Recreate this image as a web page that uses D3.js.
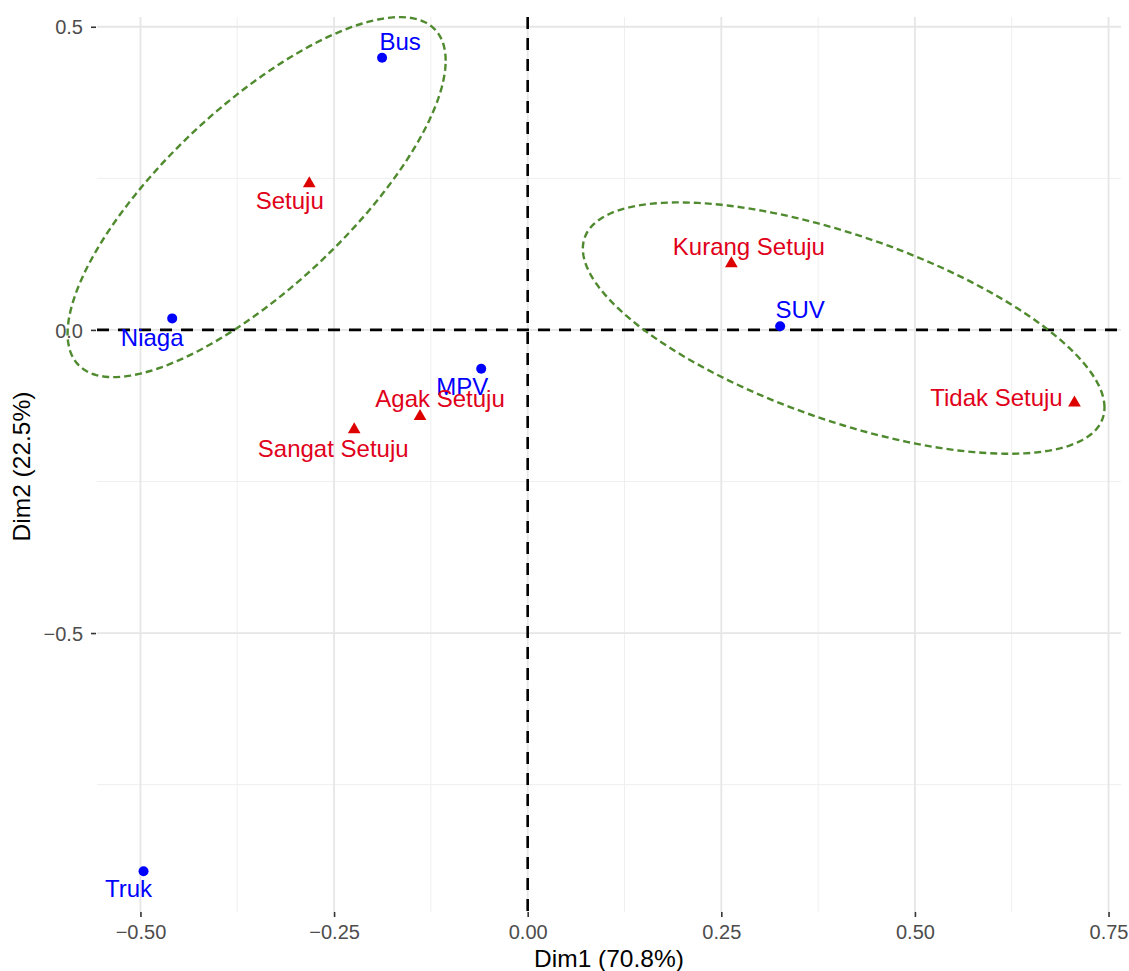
<!DOCTYPE html>
<html><head><meta charset="utf-8">
<script src="https://cdn.jsdelivr.net/npm/d3@7"></script>
<style>body{margin:0;background:#fff} svg{display:block} text{font-family:"Liberation Sans",Arial,Helvetica,sans-serif}</style>
</head><body><svg id="c" width="1129" height="971"></svg>
<script>
// ---- data ----
const rowNames = ["Bus","MPV","Niaga","SUV","Truk"];
const rowDim1 = [-0.188,-0.060,-0.459,0.326,-0.496];
const rowDim2 = [0.449,-0.064,0.019,0.006,-0.893];
const colNames = ["Sangat Setuju","Setuju","Agak Setuju","Kurang Setuju","Tidak Setuju"];
const colDim1 = [-0.224,-0.282,-0.139,0.263,0.706];
const colDim2 = [-0.162,0.244,-0.140,0.112,-0.118];
const xTicks = [-0.5,-0.25,0,0.25,0.5,0.75];
const xTickLabels = ["\u22120.50","\u22120.25","0.00","0.25","0.50","0.75"];
const yTicks = [-0.5,0,0.5];
const yTickLabels = ["\u22120.5","0.0","0.5"];
const xMinor = [-0.375,-0.125,0.125,0.375,0.625];
const yMinor = [-0.75,-0.25,0.25];
// ellipses (data units): centre, spread in x, spread in y, correlation
const ellipseCx = [-0.350, 0.408];
const ellipseCy = [0.219, 0.003];
const ellipseSx = [0.2441, 0.3368];
const ellipseSy = [0.2969, 0.2073];
const ellipseRho = [0.758, -0.632];
const xTitle = "Dim1 (70.8%)";
const yTitle = "Dim2 (22.5%)";
// label nudges (layout, px)
const rowLabelDx = [18, -19, -20, 20, -15];
const rowLabelDy = [-8, 26, 28, -8, 26];
const colLabelDx = [-21, -19.5, 20, 17.5, -78];
const colLabelDy = [29, 27, -7.5, -7.5, 5];

// ---- layout ----
const svg = d3.select("#c");
const L = 97, R = 1121, T = 17, B = 912;
const allX = rowDim1.concat(colDim1), allY = rowDim2.concat(colDim2);
const [x0, x1] = d3.extent(allX), [y0, y1] = d3.extent(allY);
const ex = (x1 - x0) * 0.05, ey = (y1 - y0) * 0.05;
const x = d3.scaleLinear().domain([x0 - ex, x1 + ex]).range([L, R]);
const y = d3.scaleLinear().domain([y0 - ey, y1 + ey]).range([B, T]);

const g = svg.append("g");
// minor grid
g.selectAll(".xm").data(xMinor).join("line")
  .attr("x1", d => x(d)).attr("x2", d => x(d)).attr("y1", T).attr("y2", B)
  .attr("stroke", "#EFEFEF").attr("stroke-width", 1);
g.selectAll(".ym").data(yMinor).join("line")
  .attr("y1", d => y(d)).attr("y2", d => y(d)).attr("x1", L).attr("x2", R)
  .attr("stroke", "#EFEFEF").attr("stroke-width", 1);
// major grid
g.selectAll(".xM").data(xTicks).join("line")
  .attr("x1", d => x(d)).attr("x2", d => x(d)).attr("y1", T).attr("y2", B)
  .attr("stroke", "#E6E6E6").attr("stroke-width", 1.8);
g.selectAll(".yM").data(yTicks).join("line")
  .attr("y1", d => y(d)).attr("y2", d => y(d)).attr("x1", L).attr("x2", R)
  .attr("stroke", "#E6E6E6").attr("stroke-width", 1.8);

// axes (ticks + labels)
const xAxis = d3.axisBottom(x).tickValues(xTicks).tickSize(5).tickPadding(8)
  .tickFormat((d, i) => xTickLabels[i]);
const gx = svg.append("g").attr("transform", `translate(0,${B})`).call(xAxis);
gx.select(".domain").remove();
gx.selectAll(".tick line").attr("stroke", "#333").attr("stroke-width", 1.6);
gx.selectAll(".tick text").attr("font-size", 20).attr("fill", "#4D4D4D")
  .attr("font-family", '"Liberation Sans",Arial,sans-serif').attr("dy", "0.72em");

const yAxis = d3.axisLeft(y).tickValues(yTicks).tickSize(5).tickPadding(8)
  .tickFormat((d, i) => yTickLabels[i]);
const gy = svg.append("g").attr("transform", `translate(${L - 1},0)`).call(yAxis);
gy.select(".domain").remove();
gy.selectAll(".tick line").attr("stroke", "#333").attr("stroke-width", 1.6);
gy.selectAll(".tick text").attr("font-size", 20).attr("fill", "#4D4D4D")
  .attr("font-family", '"Liberation Sans",Arial,sans-serif').attr("dy", "0.36em");

// zero lines
svg.append("line").attr("x1", x(0)).attr("x2", x(0)).attr("y1", T).attr("y2", B)
  .attr("stroke", "#000").attr("stroke-width", 2.6).attr("stroke-dasharray", "12,9");
svg.append("line").attr("y1", y(0)).attr("y2", y(0)).attr("x1", L).attr("x2", R)
  .attr("stroke", "#000").attr("stroke-width", 2.6).attr("stroke-dasharray", "12,9");

// points
svg.selectAll(".rp").data(rowNames).join("circle")
  .attr("cx", (d, i) => x(rowDim1[i])).attr("cy", (d, i) => y(rowDim2[i]))
  .attr("r", 5).attr("fill", "#0000FF");
const tri = d3.symbol().type(d3.symbolTriangle).size(70);
svg.selectAll(".cp").data(colNames).join("path")
  .attr("d", tri)
  .attr("transform", (d, i) => `translate(${x(colDim1[i])},${y(colDim2[i]) + 1.5})`)
  .attr("fill", "#DD0000");

// labels
svg.selectAll(".rl").data(rowNames).join("text")
  .attr("x", (d, i) => x(rowDim1[i]) + rowLabelDx[i])
  .attr("y", (d, i) => y(rowDim2[i]) + rowLabelDy[i])
  .attr("text-anchor", "middle").attr("font-size", 24).attr("fill", "#0000FF")
  .text(d => d);
svg.selectAll(".cl").data(colNames).join("text")
  .attr("x", (d, i) => x(colDim1[i]) + colLabelDx[i])
  .attr("y", (d, i) => y(colDim2[i]) + colLabelDy[i])
  .attr("text-anchor", "middle").attr("font-size", 24).attr("fill", "#E0001A")
  .text(d => d);

// ellipses
const ts = d3.range(0, 361, 2).map(a => a * Math.PI / 180);
const line = d3.line().curve(d3.curveLinearClosed);
ellipseCx.forEach((cx, k) => {
  const rho = ellipseRho[k], s = Math.sqrt(1 - rho * rho);
  const pts = ts.map(t => [
    x(cx + ellipseSx[k] * Math.cos(t)),
    y(ellipseCy[k] + ellipseSy[k] * (rho * Math.cos(t) + s * Math.sin(t)))
  ]);
  svg.append("path").attr("d", line(pts)).attr("fill", "none")
    .attr("stroke", "#4F8A2E").attr("stroke-width", 2.4).attr("stroke-dasharray", "7,4");
});

// titles
svg.append("text").attr("x", (L + R) / 2).attr("y", 967).attr("text-anchor", "middle")
  .attr("font-size", 24.5).attr("fill", "#000").text(xTitle);
svg.append("text").attr("transform", `translate(30,${(T + B) / 2 + 2}) rotate(-90)`)
  .attr("text-anchor", "middle").attr("font-size", 24.5).attr("fill", "#000").text(yTitle);
</script></body></html>
